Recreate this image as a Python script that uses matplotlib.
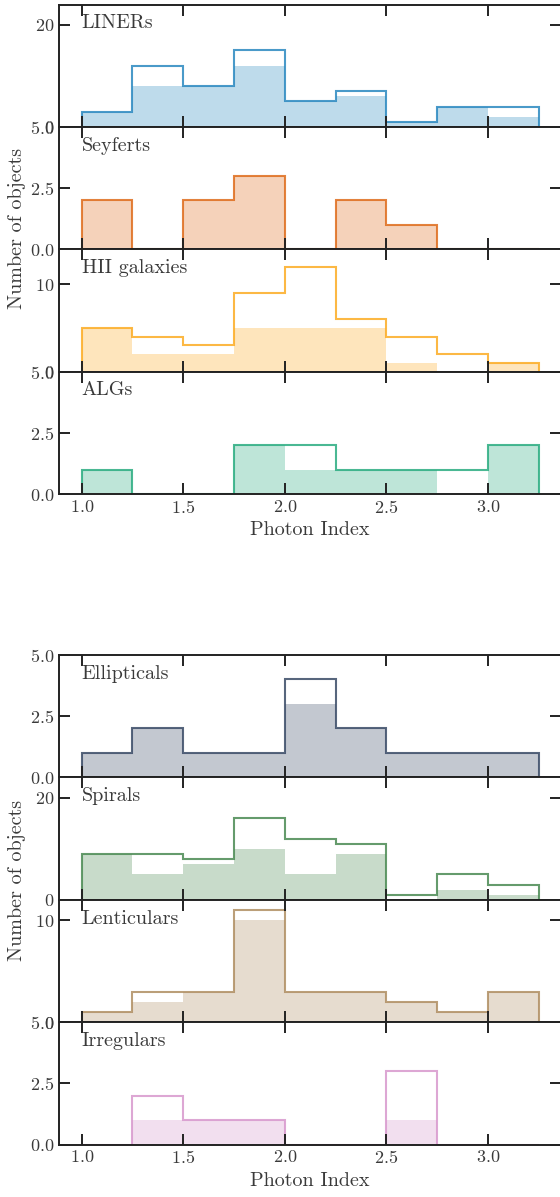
import numpy as np
import matplotlib
matplotlib.use('Agg')
import matplotlib.pyplot as plt

plt.rcParams['font.family'] = 'cmr10'
plt.rcParams['mathtext.fontset'] = 'cm'
plt.rcParams['axes.formatter.use_mathtext'] = True
plt.rcParams['axes.unicode_minus'] = False

# photon index bins
edges = [1.0, 1.25, 1.5, 1.75, 2.0, 2.25, 2.5, 2.75, 3.0, 3.25]

# activity classes: outline = all objects, filled = subset
activity_names = ['LINERs', 'Seyferts', 'HII galaxies', 'ALGs']
activity_all = [
    [3, 12, 8, 15, 5, 7, 1, 4, 4],
    [2, 0, 2, 3, 0, 2, 1, 0, 0],
    [5, 4, 3, 9, 12, 6, 4, 2, 1],
    [1, 0, 0, 2, 2, 1, 1, 1, 2],
]
activity_sub = [
    [3, 8, 8, 12, 5, 6, 1, 4, 2],
    [2, 0, 2, 3, 0, 2, 1, 0, 0],
    [5, 2, 2, 5, 5, 5, 1, 0, 1],
    [1, 0, 0, 2, 1, 1, 1, 0, 2],
]
activity_ylim = [24, 5, 14, 5]
activity_yticks = [[0, 20], [0.0, 2.5, 5.0], [0, 10], [0.0, 2.5, 5.0]]
activity_colors = ['#2a88c0', '#de6c1c', '#fcac23', '#2aac80']

# morphological classes
morph_names = ['Ellipticals', 'Spirals', 'Lenticulars', 'Irregulars']
morph_all = [
    [1, 2, 1, 1, 4, 2, 1, 1, 1],
    [9, 9, 8, 16, 12, 11, 1, 5, 3],
    [1, 3, 3, 11, 3, 3, 2, 1, 3],
    [0, 2, 1, 1, 0, 0, 3, 0, 0],
]
morph_sub = [
    [1, 2, 1, 1, 3, 2, 1, 1, 1],
    [9, 5, 7, 10, 5, 9, 0, 2, 1],
    [1, 2, 3, 10, 3, 3, 2, 1, 3],
    [0, 1, 1, 1, 0, 0, 1, 0, 0],
]
morph_ylim = [5, 24, 12, 5]
morph_yticks = [[0.0, 2.5, 5.0], [0, 20], [0, 10], [0.0, 2.5, 5.0]]
morph_colors = ['#3a4b66', '#4a8a52', '#af8e62', '#d798cd']

W, H = 560, 1197
fig = plt.figure(figsize=(W / 100, H / 100), dpi=100)

spine_c = '#222222'
text_c = '#3a3a3a'
left = 58.9 / W
width = (561.4 - 58.9) / W
panel_h = 122.4


def draw_group(top_px, names, counts_all, counts_sub, ylims, yticks, colors):
    axes = []
    for i in range(4):
        y0 = top_px + (i + 1) * panel_h
        ax = fig.add_axes([left, 1 - y0 / H, width, panel_h / H])
        c = colors[i]
        ax.stairs(counts_sub[i], edges, fill=True, color=c, alpha=0.3, lw=0)
        ax.stairs(counts_all[i], edges, color=c, alpha=0.85, lw=1.5)
        ax.set_xlim(0.8875, 3.3625)
        ax.set_ylim(0, ylims[i])
        ax.set_yticks(yticks[i])
        ax.tick_params(direction='in', top=True, right=True, length=7.7,
                       width=1.4, color=spine_c, labelsize=13,
                       labelcolor=text_c)
        for s in ax.spines.values():
            s.set_linewidth(1.4)
            s.set_color(spine_c)
        ax.text(1.0, 0.92, names[i], transform=ax.get_xaxis_transform(),
                ha='left', va='top', fontsize=14.5, color=text_c)
        if i < 3:
            ax.tick_params(labelbottom=False)
        else:
            ax.set_xlabel('Photon Index', fontsize=14.5, color=text_c,
                          labelpad=4)
        axes.append(ax)
    return axes


draw_group(4.5, activity_names, activity_all, activity_sub,
           activity_ylim, activity_yticks, activity_colors)
draw_group(655, morph_names, morph_all, morph_sub,
           morph_ylim, morph_yticks, morph_colors)

fig.text(16.7 / W, 1 - 228 / H, 'Number of objects', rotation=90,
         ha='center', va='center', fontsize=14.5, color=text_c)
fig.text(16.7 / W, 1 - 880 / H, 'Number of objects', rotation=90,
         ha='center', va='center', fontsize=14.5, color=text_c)

fig.savefig('out.png', dpi=100)
